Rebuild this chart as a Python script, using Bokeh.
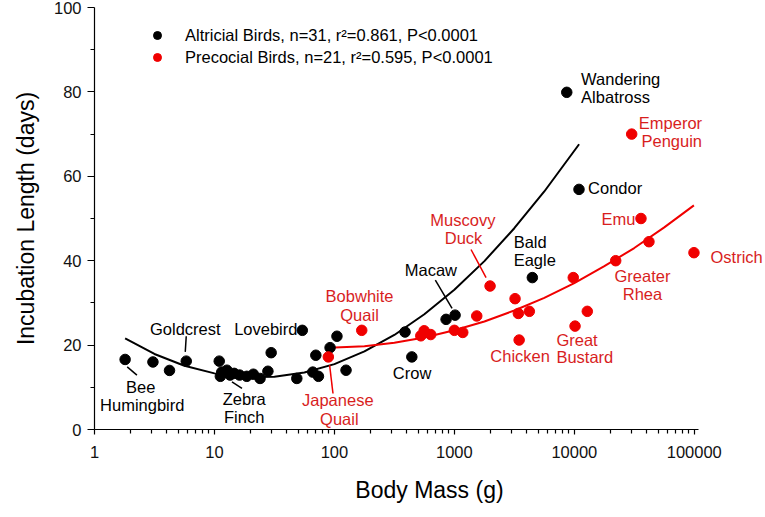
from bokeh.plotting import figure
from bokeh.models import (ColumnDataSource, FixedTicker, Legend, LegendItem, Range1d,
                          BasicTickFormatter)
from bokeh.embed import file_html
from bokeh.resources import INLINE
from bokeh.core.properties import value

# ---------------- data ----------------
alt_mass = [1.8, 3.07, 4.22, 5.82, 10.96, 11.2, 11.5, 12.7, 13.5, 14.6, 16.2, 18.6, 21.1,
            24.0, 27.9, 29.7, 48.6, 54.0, 70.0, 66.0, 73.6, 92.0, 105.0, 125.0, 388.0,
            442.0, 853.0, 1014.0, 4467.0, 8650.0, 10940.0]
alt_days = [16.6, 16.0, 14.0, 16.2, 16.2, 12.6, 13.6, 14.05, 12.9, 13.3, 12.9, 12.6, 13.1,
            12.1, 13.8, 18.2, 12.1, 23.5, 17.6, 13.6, 12.6, 19.4, 22.1, 14.05, 23.1,
            17.2, 26.1, 27.1, 36.0, 79.9, 56.9]

pre_mass = [89, 169, 525, 560, 635, 1000, 1175, 1537, 1984, 3206, 3415, 4217, 3467, 9800,
            10140, 12830, 30080, 35950, 41900, 22130, 99400]
pre_days = [17.2, 23.5, 22.2, 23.4, 22.5, 23.5, 23.0, 26.9, 34.0, 31.0, 27.5, 28.0, 21.2,
            36.0, 24.5, 28.0, 70.0, 50.0, 44.5, 40.0, 41.9]

alt_fit_mass = [1.8, 3.16, 5.62, 10, 17.8, 31.6, 56.2, 100, 178, 316, 562, 1000, 1780,
                3160, 5620, 10960]
alt_fit_days = [21.6, 17.9, 15.1, 13.3, 12.4, 12.5, 13.5, 15.5, 18.5, 22.4, 27.3, 33.1,
                39.9, 47.7, 56.4, 67.6]

pre_fit_mass = [90, 178, 316, 562, 1000, 1780, 3160, 5620, 10000, 17800, 31600, 56200, 99300]
pre_fit_days = [19.4, 19.75, 20.55, 21.8, 23.5, 25.6, 28.2, 31.2, 34.7, 38.7, 43.0, 47.9, 53.1]

alt_legend = "Altricial Birds, n=31, r\u00b2=0.861, P<0.0001"
pre_legend = "Precocial Birds, n=21, r\u00b2=0.595, P<0.0001"

x_ticks = [1, 10, 100, 1000, 10000, 100000]
x_tick_labels = ["1", "10", "100", "1000", "10000", "100000"]
y_ticks = [0, 20, 40, 60, 80, 100]
y_tick_labels = ["0", "20", "40", "60", "80", "100"]

# annotation labels: text, mass, days, colour, align
ann = [
    ("Bee", 2.43, 10.0, "k", "center"),
    ("Humingbird", 2.50, 5.76, "k", "center"),
    ("Goldcrest", 5.71, 23.8, "k", "center"),
    ("Lovebird", 26.8, 23.8, "k", "center"),
    ("Zebra", 17.7, 7.18, "k", "center"),
    ("Finch", 17.7, 2.91, "k", "center"),
    ("Crow", 444, 13.3, "k", "center"),
    ("Macaw", 637, 37.9, "k", "center"),
    ("Bald", 3123, 44.5, "k", "left"),
    ("Eagle", 3123, 40.1, "k", "left"),
    ("Wandering", 11394, 83.0, "k", "left"),
    ("Albatross", 11394, 78.7, "k", "left"),
    ("Condor", 13030, 57.25, "k", "left"),
    ("Bobwhite", 162, 31.6, "r", "center"),
    ("Quail", 162, 27.25, "r", "center"),
    ("Japanese", 106.7, 6.94, "r", "center"),
    ("Quail", 109.9, 2.37, "r", "center"),
    ("Muscovy", 1178, 49.6, "r", "center"),
    ("Duck", 1192, 45.4, "r", "center"),
    ("Chicken", 3532, 17.4, "r", "center"),
    ("Great", 7092, 21.2, "r", "left"),
    ("Bustard", 7092, 17.2, "r", "left"),
    ("Emperor", 63310, 72.65, "r", "center"),
    ("Penguin", 64910, 68.3, "r", "center"),
    ("Emu", 32330, 49.8, "r", "right"),
    ("Ostrich", 136500, 40.9, "r", "left"),
    ("Greater", 36980, 36.3, "r", "center"),
    ("Rhea", 36980, 32.2, "r", "center"),
]
# leader lines: x0, y0, x1, y1, colour
leaders = [
    (1.874, 14.83, 2.258, 12.87, "k"),
    (5.82, 22.1, 5.71, 18.4, "k"),
    (14.0, 11.28, 16.96, 9.72, "k"),
    (694, 35.4, 957, 28.7, "k"),
    (91.2, 15.24, 97.3, 8.53, "r"),
    (1377, 42.65, 1838, 36.0, "r"),
]

BLACK = "#000000"
RED = "#f00000"
RED_TEXT = "#d81e1e"
FONT = "Liberation Sans"
FS = "16.5px"

p = figure(width=765, height=512, x_axis_type="log",
           x_range=Range1d(1, 385000), y_range=Range1d(0, 100),
           output_backend="svg", toolbar_location=None,
           min_border_left=94, min_border_right=1, min_border_top=7, min_border_bottom=83)
p.outline_line_color = None
p.xgrid.visible = False
p.ygrid.visible = False
p.background_fill_color = "white"
p.border_fill_color = "white"

# axes
p.xaxis.bounds = (1, 108400)
p.xaxis.ticker = FixedTicker(ticks=x_ticks,
                             minor_ticks=[k * 10 ** e for e in range(0, 5) for k in range(2, 10)])
p.xaxis.formatter = BasicTickFormatter(use_scientific=False)
p.xaxis.major_label_overrides = {t: l for t, l in zip(x_ticks, x_tick_labels)}
p.yaxis.ticker = FixedTicker(ticks=y_ticks, minor_ticks=[10, 30, 50, 70, 90])
p.yaxis.major_label_overrides = {t: l for t, l in zip(y_ticks, y_tick_labels)}
p.xaxis.axis_label = "Body Mass (g)"
p.yaxis.axis_label = "Incubation Length (days)"
for ax in (p.xaxis[0], p.yaxis[0]):
    ax.axis_line_color = BLACK
    ax.axis_line_width = 1.2
    ax.major_tick_line_color = BLACK
    ax.minor_tick_line_color = BLACK
    ax.major_tick_line_width = 1.2
    ax.minor_tick_line_width = 1.2
    ax.major_tick_in = 0
    ax.minor_tick_in = 0
    ax.major_label_text_font = FONT
    ax.major_label_text_font_size = FS
    ax.major_label_text_color = "#111111"
    ax.axis_label_text_font = FONT
    ax.axis_label_text_font_size = "23px"
    ax.axis_label_text_font_style = "normal"
    ax.axis_label_text_color = BLACK
p.xaxis.major_tick_out = 5
p.xaxis.minor_tick_out = 4
p.xaxis.major_label_standoff = 11
p.xaxis.axis_label_standoff = 16
p.yaxis.major_tick_out = 7
p.yaxis.minor_tick_out = 4
p.yaxis.major_label_standoff = 6
p.yaxis.axis_label_standoff = 12

# regression curves
p.line(alt_fit_mass, alt_fit_days, line_color=BLACK, line_width=2)
p.line(pre_fit_mass, pre_fit_days, line_color=RED, line_width=2)

# points
r_alt = p.scatter(alt_mass, alt_days, size=10.5, fill_color=BLACK, line_color=BLACK)
r_pre = p.scatter(pre_mass, pre_days, size=10.5, fill_color=RED, line_color=RED)

# leader lines
for col in ("k", "r"):
    sel = [l for l in leaders if l[4] == col]
    p.segment(x0=[l[0] for l in sel], y0=[l[1] for l in sel],
              x1=[l[2] for l in sel], y1=[l[3] for l in sel],
              line_color=BLACK if col == "k" else RED, line_width=1.5)

# labels
for col in ("k", "r"):
    for align in ("left", "center", "right"):
        sel = [a for a in ann if a[3] == col and a[4] == align]
        if not sel:
            continue
        src = ColumnDataSource(dict(x=[a[1] for a in sel], y=[a[2] for a in sel],
                                    t=[a[0] for a in sel]))
        p.text(x="x", y="y", text="t", source=src, text_align=align,
               text_baseline="middle", text_font=value(FONT), text_font_size=value(FS),
               text_color=BLACK if col == "k" else RED_TEXT)

legend = Legend(items=[LegendItem(label=alt_legend, renderers=[r_alt]),
                       LegendItem(label=pre_legend, renderers=[r_pre])],
                location=(53, 362), orientation="vertical",
                padding=0, margin=0, spacing=2,
                glyph_width=20, glyph_height=20, label_height=20,
                label_standoff=18,
                label_text_font=FONT, label_text_font_size=FS,
                label_text_color=BLACK,
                border_line_color=None, background_fill_alpha=0)
p.add_layout(legend)

open("out.html", "w").write(file_html(p, INLINE))
